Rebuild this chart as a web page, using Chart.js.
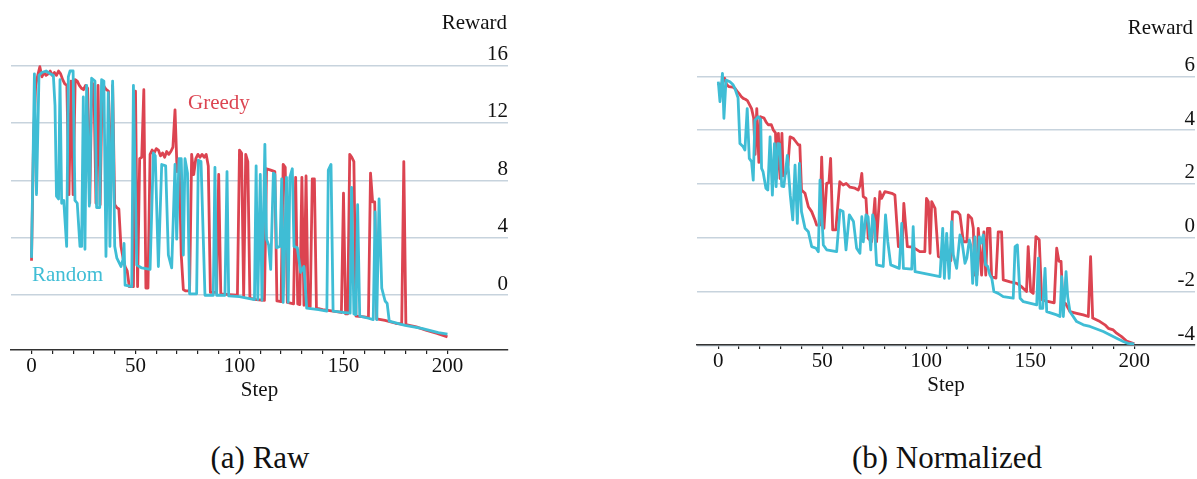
<!DOCTYPE html>
<html>
<head>
<meta charset="utf-8">
<title>Reward per step: Greedy vs Random</title>
<script src="https://cdn.jsdelivr.net/npm/chart.js@4.4.1/dist/chart.umd.min.js"></script>
<style>
  html, body { margin: 0; padding: 0; background: #fff; }
  body {
    width: 1197px; height: 479px; position: relative; overflow: hidden;
    font-family: "Liberation Serif", "Times New Roman", serif; color: #111;
  }
  canvas { position: absolute; top: 0; }
  #rawChart { left: 0; }
  #normChart { left: 686px; }
  .note { position: absolute; white-space: nowrap; font-size: 21px; line-height: 1; }
  .greedy { color: #dc4451; }
  .random { color: #3fbdd5; }
  .caption { position: absolute; top: 442px; font-size: 31px; line-height: 1; transform: translateX(-50%); white-space: nowrap; }
</style>
</head>
<body>

<canvas id="rawChart" width="520" height="420"></canvas>
<canvas id="normChart" width="511" height="420"></canvas>

<div class="note" style="right: 690px; top: 12px;">Reward</div>
<div class="note" style="right: 4px; top: 17px;">Reward</div>
<div class="note greedy" style="left: 188px; top: 92px;">Greedy</div>
<div class="note random" style="left: 32px; top: 264px;">Random</div>

<div class="caption" style="left: 260px;">(a) Raw</div>
<div class="caption" style="left: 947px;">(b) Normalized</div>

<script>
// --- data: [step, reward] ---
const rawGreedy = [
    [0, 2.4], [1, 11.0], [2, 14.6], [3, 15.3], [4, 15.9], [5, 15.2], [6, 15.5], [7, 15.3], [8, 15.4],
    [9, 15.6], [10, 15.3], [11, 15.5], [12, 15.3], [13, 15.6], [14, 15.4], [15, 15.0], [16, 14.7],
    [17, 14.6], [18, 7.0], [19, 14.9], [20, 7.0], [21, 15.0], [22, 14.9], [23, 14.6], [24, 14.4],
    [25, 14.3], [26, 14.6], [27, 14.4], [28, 6.4], [29, 14.8], [30, 14.6], [31, 6.4], [32, 14.6],
    [33, 6.3], [34, 14.8], [35, 14.5], [36, 14.3], [37, 14.2], [38, 6.2], [39, 14.6], [40, 6.3],
    [41, 6.1], [42, 6.0], [43, 3.4], [44, 2.6], [45, 2.0], [46, 1.7], [47, 0.6], [48, 0.6], [49, 0.6],
    [50, 14.2], [51, 0.6], [52, 9.5], [53, 9.6], [54, 14.3], [55, 0.5], [56, 0.5], [57, 9.8],
    [58, 10.1], [59, 9.9], [60, 10.2], [61, 10.1], [62, 9.7], [63, 9.9], [64, 9.6], [65, 10.0],
    [66, 9.8], [67, 10.0], [68, 10.3], [69, 12.9], [70, 8.6], [71, 9.2], [72, 2.8], [73, 0.4],
    [74, 0.3], [76, 0.3], [77, 9.8], [78, 8.4], [79, 9.5], [80, 9.8], [81, 9.6], [82, 9.8], [83, 9.6],
    [84, 9.8], [85, 9.0], [86, 0.2], [89, 0.2], [90, 8.4], [91, 0.1], [95, 0.05], [99, 0.0],
    [100, 10.1], [101, 9.9], [102, -0.1], [103, 9.8], [104, 9.3], [105, -0.2], [108, -0.3],
    [112, -0.35], [113, 8.8], [115, 8.7], [117, 8.6], [118, -0.4], [120, -0.45], [121, 9.1],
    [122, 8.9], [123, -0.5], [126, -0.6], [127, 8.2], [128, -0.6], [129, -0.65], [130, 8.2],
    [131, -0.7], [132, 8.3], [133, -0.8], [134, -0.8], [135, 8.1], [136, 8.1], [137, -0.9],
    [140, -1.0], [145, -1.1], [149, -1.2], [150, 7.1], [151, -1.3], [152, -1.3], [153, 9.8],
    [154, 9.6], [155, 9.3], [156, -1.45], [160, -1.5], [162, -1.55], [163, 8.5], [164, 6.5],
    [165, 6.5], [166, -1.65], [170, -1.75], [175, -1.95], [178, -2.0], [179, 9.3], [180, -2.05],
    [185, -2.2], [190, -2.45], [195, -2.65], [200, -2.9]
];

const rawRandom = [
    [0, 2.6], [1.4, 15.4], [2.4, 7.0], [3.6, 15.3], [5, 15.5], [7, 15.6], [9, 15.4], [10.5, 15.3],
    [11.3, 13.2], [12, 6.9], [13, 6.7], [13.7, 15.0], [14.5, 6.4], [15.5, 6.6], [16.9, 3.4],
    [17.7, 15.2], [18.5, 15.6], [20, 15.6], [20.9, 6.6], [22, 6.4], [23.3, 3.4], [24.1, 3.4],
    [24.9, 13.8], [25.7, 3.2], [26.5, 14.6], [27.8, 6.2], [28.9, 15.1], [30.5, 14.9], [31.3, 6.1],
    [32.8, 6.1], [33.7, 15.0], [34.8, 14.9], [35.8, 2.7], [36.9, 14.1], [37.7, 3.4], [39, 14.9],
    [40, 3.4], [41, 2.6], [42, 2.3], [43, 2.0], [44, 2.5], [44.5, 3.6], [45, 0.7], [48.2, 0.6],
    [49, 14.6], [50.6, 2.1], [53, 1.9], [57, 1.8], [58.6, 9.9], [59.5, 9.7], [61, 2.0], [62.6, 9.1],
    [64.5, 9.0], [65.8, 2.8], [67.4, 1.9], [69, 9.1], [69.8, 3.9], [70.9, 9.5], [72, 9.5], [73, 2.8],
    [73.8, 9.5], [75, 8.5], [76, 0.1], [79.4, 0.1], [80.2, 9.4], [81.5, 9.3], [83.4, 0.0], [87.4, 0.0],
    [88.2, 8.9], [89, 0.0], [93, 0.0], [94, 8.6], [94.8, -0.05], [100, -0.1], [107.2, -0.3],
    [108, 9.0], [108.8, -0.3], [110, 8.4], [110.8, -0.35], [112.2, 10.5], [113, 3.9], [114, 3.5],
    [115, 1.8], [116.3, 8.5], [117, 8.4], [117.8, 3.3], [119.5, 3.4], [120.3, 8.1], [121, -0.5],
    [122.6, 8.2], [123.4, -0.5], [124.2, 8.2], [125.4, 8.8], [126.2, 3.4], [127.8, 3.3], [129.4, 1.6],
    [131, 2.0], [132.3, -0.9], [138, -1.0], [142, -1.1], [142.7, 8.7], [144, 9.1], [145, -1.1],
    [150, -1.2], [153.2, -1.25], [153.9, 7.5], [155, -1.3], [156, -1.35], [156.8, 6.3], [157.8, -1.45],
    [162, -1.6], [164.3, -1.7], [165.2, 5.8], [166, -1.7], [167.1, 6.7], [168.4, 0.5], [170, -0.4],
    [171, -0.57], [172, -1.8], [179.6, -2.1], [187.6, -2.3], [195.6, -2.6], [200, -2.7]
];

const normGreedy = [
    [0, 5.74], [1, 5.6], [2, 5.8], [3, 5.93], [4, 5.7], [5, 5.62], [7, 5.6], [8, 5.55], [9, 5.45],
    [10, 5.36], [11, 5.25], [12, 5.18], [13, 5.15], [14, 5.1], [15, 4.95], [16, 4.8], [17, 4.45],
    [17.7, 3.1], [18.5, 4.8], [19.5, 2.8], [20.3, 4.5], [22, 4.45], [23, 4.3], [24, 4.2], [25.5, 4.2],
    [26.5, 4.0], [27.5, 3.9], [28, 2.2], [28.9, 3.88], [29.7, 2.2], [30.6, 3.88], [31.2, 2.3],
    [32.5, 2.4], [33.5, 2.7], [34.5, 3.75], [36, 3.7], [37.5, 3.55], [38.5, 3.45], [39.2, 3.45],
    [40, 1.77], [41.7, 1.65], [43.3, 1.15], [44.9, 0.97], [46.5, 0.66], [47.3, 0.47], [48.9, 0.47],
    [49.7, 3.0], [50.8, 0.35], [52.1, 2.02], [53.2, 2.05], [54, 2.95], [55, 0.29], [56.5, 0.29],
    [58.4, 2.08], [60, 1.96], [61.5, 2.02], [63.3, 1.88], [65.7, 1.84], [67.3, 1.77], [68.2, 1.96],
    [69, 2.39], [69.7, 1.53], [71, 1.46], [72.1, -0.02], [73.7, -0.15], [75.3, 1.46], [76.1, -0.15],
    [77.7, 1.71], [78.5, 1.46], [80.1, 1.71], [83.4, 1.65], [84.9, 1.59], [86.6, -0.33], [88.5, -0.33],
    [89.2, 1.28], [90.9, -0.33], [93.5, -0.35], [96.9, -0.52], [99.3, -0.52], [100.1, 1.46],
    [101, 1.34], [101.8, -0.58], [102.6, 1.34], [104.2, 1.09], [105.8, -0.7], [109, -0.8],
    [111.8, -0.85], [112.6, 0.96], [115, 0.96], [116.2, 0.85], [117.8, -0.15], [119.5, -0.15],
    [120.2, 0.85], [121.8, 0.72], [122.6, 0.35], [123.4, -1.39], [124.4, -1.39], [125, 0.35],
    [126.6, -1.39], [127.7, 0.22], [128.6, -1.39], [129.4, 0.35], [130.6, 0.35], [131.4, -1.45],
    [133.5, -1.5], [134.6, 0.22], [136.2, 0.22], [137, -1.57], [140.3, -1.64], [143.5, -1.7],
    [145.8, -1.82], [148.2, -2.0], [149, -0.33], [150.2, -2.0], [151.4, -2.07], [152.7, 0.04],
    [154.3, -0.08], [155.5, -2.3], [157.9, -2.36], [161.5, -2.42], [162.7, -0.39], [163.8, -0.88],
    [164.8, -0.88], [165.6, -2.38], [167, -2.45], [169.1, -2.75], [172.3, -2.81], [175.5, -2.87],
    [177.9, -2.93], [179, -0.7], [180, -2.99], [183.5, -3.12], [185.9, -3.24], [187.5, -3.37],
    [189.9, -3.43], [191.5, -3.55], [193.9, -3.68], [196.3, -3.84], [200, -3.95]
];

const normRandom = [
    [0, 5.8], [0.8, 5.06], [2, 6.11], [2.7, 4.44], [3.7, 5.86], [5.6, 5.8], [7, 5.7], [8, 5.55],
    [9.5, 5.2], [10.4, 3.5], [12, 3.38], [12.8, 3.26], [13.9, 4.8], [14.9, 2.95], [16, 2.83],
    [16.8, 2.14], [17.6, 4.37], [19.2, 4.5], [20.4, 4.4], [20.8, 2.58], [21.5, 2.46], [22.9, 1.84],
    [23.8, 1.77], [24.9, 3.75], [26, 1.58], [27, 3.5], [27.8, 1.9], [28.6, 3.5], [29.5, 3.49],
    [30.5, 1.92], [31.5, 1.9], [33.2, 3.06], [34, 2.2], [34.6, 1.58], [35.8, 0.66], [36.9, 2.7],
    [38, 0.53], [39, 2.76], [40, 0.97], [41.7, 0.35], [43.3, 0.22], [44.9, -0.33], [47, -0.39],
    [48.1, -0.52], [48.9, 2.14], [50.5, -0.27], [52.1, -0.45], [56.9, -0.52], [58.5, 1.03],
    [60, 0.97], [61.4, -0.45], [63, 0.85], [65, 0.6], [66.5, -0.39], [68.1, -0.58], [69, 0.78],
    [69.7, -0.15], [71, 0.85], [72, 0.78], [73.3, -0.45], [74.2, 0.85], [75, 0.6], [76.1, -1.01],
    [79.3, -1.07], [80.4, 0.85], [81.5, -0.15], [82.9, -1.01], [87, -1.14], [88.2, 0.53], [89, -1.14],
    [93, -1.17], [93.7, 0.41], [94.6, -1.26], [106.6, -1.45], [107.9, 0.35], [108.7, -1.51],
    [109.8, 0.16], [111, -1.51], [112.2, 0.6], [113, -0.64], [114.6, -1.14], [116.2, 0.1],
    [117, -0.05], [118.6, -0.95], [119.5, -0.76], [120.7, -0.08], [121.5, -0.3], [122.3, -1.7],
    [123.4, 0.03], [124.2, -1.76], [125.5, 0.03], [126.3, -0.2], [127.4, 0.1], [128.5, -1.01],
    [129.5, -1.07], [130.6, -1.39], [131.5, -1.51], [132.5, -2.0], [134.6, -2.07], [137, -2.19],
    [141.8, -2.25], [142.7, -0.33], [143.8, -0.27], [145.1, -2.25], [146.7, -2.38], [153.1, -2.5],
    [153.9, -0.76], [154.7, -2.63], [156, -2.63], [157.1, -1.14], [157.9, -2.75], [162.7, -2.87],
    [164.3, -2.93], [165.1, -1.45], [165.9, -2.93], [167.2, -1.26], [168, -2.2], [169.1, -2.75],
    [172.3, -3.12], [175.5, -3.24], [178.7, -3.3], [185.1, -3.49], [191.5, -3.74], [194.7, -3.86],
    [197, -3.93], [200, -3.95]
];

const stepTicks = [0, 10, 20, 30, 40, 50, 60, 70, 80, 90, 100, 110, 120, 130, 140, 150, 160, 170, 180, 190, 200];
const stepLabels = [0, 50, 100, 150, 200];
const rawTicks = [0, 4, 8, 12, 16];
const normTicks = [-4, -2, 0, 2, 4, 6];

// --- shared look ---
const RED = '#dc4451';
const CYAN = '#3fbdd5';
const GRID = '#c7d3dd';
const TEXT = '#111';
const FONT = { family: '"Liberation Serif", "Times New Roman", serif', size: 21 };

const toPoints = rows => rows.map(([x, y]) => ({ x, y }));

function makeChart(id, greedy, random, yTicks, xRange, yRange, pad) {
    const ctx = document.getElementById(id).getContext('2d');
    const line = (data, color) => ({
        data: toPoints(data),
        borderColor: color,
        borderWidth: 2.8,
        borderJoinStyle: 'round',
        pointRadius: 0,
        tension: 0,
        fill: false
    });

    return new Chart(ctx, {
        type: 'line',
        data: {
            // random first so it is drawn on top, as in the figure
            datasets: [line(random, CYAN), line(greedy, RED)]
        },
        options: {
            responsive: false,
            animation: false,
            layout: { padding: pad },
            plugins: { legend: { display: false }, tooltip: { enabled: false } },
            scales: {
                x: {
                    type: 'linear',
                    min: xRange[0],
                    max: xRange[1],
                    afterBuildTicks: axis => { axis.ticks = stepTicks.map(v => ({ value: v })); },
                    afterFit: axis => { axis.height = 60; },
                    grid: { drawOnChartArea: false, drawTicks: true, tickLength: 4, color: '#222', lineWidth: 1.2 },
                    border: { display: true, color: '#333', width: 1.6 },
                    ticks: {
                        autoSkip: false,
                        maxRotation: 0,
                        padding: 0,
                        color: TEXT,
                        font: FONT,
                        callback: v => stepLabels.includes(v) ? String(v) : ''
                    },
                    title: { display: true, text: 'Step', color: TEXT, font: FONT, padding: { top: 0, bottom: 7 } }
                },
                y: {
                    type: 'linear',
                    position: 'right',
                    min: yRange[0],
                    max: yRange[1],
                    afterBuildTicks: axis => { axis.ticks = yTicks.map(v => ({ value: v })); },
                    afterFit: axis => { axis.width = 0; },
                    grid: { color: GRID, lineWidth: 1.5, drawTicks: false },
                    border: { display: false },
                    ticks: {
                        mirror: true,
                        padding: 0,
                        labelOffset: -11,
                        color: TEXT,
                        font: FONT
                    }
                }
            }
        }
    });
}

makeChart('rawChart', rawGreedy, rawRandom, rawTicks,
    [-9.86, 229.1], [-3.81, 17.48],
    { left: 11, right: 12, top: 44, bottom: 10 });

makeChart('normChart', normGreedy, normRandom, normTicks,
    [-10.24, 229.2], [-3.99, 6.98],
    { left: 11, right: 2, top: 50, bottom: 15 });
</script>
</body>
</html>
